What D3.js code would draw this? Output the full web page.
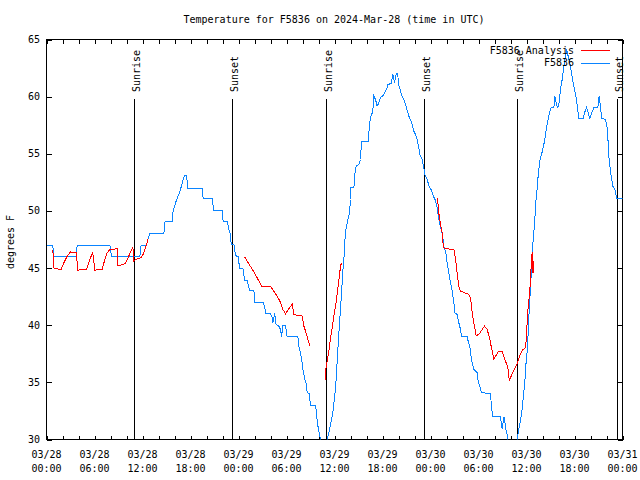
<!DOCTYPE html>
<html><head><meta charset="utf-8">
<script src="https://cdn.jsdelivr.net/npm/d3@7"></script>
<style>
body{margin:0;background:#fff;}
text{font-family:"DejaVu Sans Mono","Liberation Mono",monospace;font-size:10px;fill:#000;}
</style></head><body>
<svg id="c" width="640" height="480"></svg>
<script>
const title = "Temperature for F5836 on 2024-Mar-28 (time in UTC)";
const yLabel = "degrees F";
const seriesNames = ["F5836 Analysis", "F5836"];
const seriesColors = ["#ff0000", "#0a84ff"];
const yTicks = [30, 35, 40, 45, 50, 55, 60, 65];
const xLabelHours = [0, 6, 12, 18, 24, 30, 36, 42, 48, 54, 60, 66, 72];
const sunriseHours = [10.93, 34.88, 58.86];
const sunsetHours = [23.23, 47.24, 71.27];

// Observations (hours since 2024-03-28 00:00 UTC, deg F)
const obsHours = [0,0.79,0.88,3.75,3.83,7.92,8.13,11.67,11.83,12.5,12.67,12.92,14.67,14.83,15.71,15.83,16.13,16.33,16.67,16.96,17.08,17.25,17.5,17.67,19.46,19.58,20.71,20.92,21.96,22.08,22.58,22.79,23.0,23.08,23.42,23.5,23.71,23.96,24.04,24.13,24.54,24.67,24.79,25.08,25.21,25.38,25.92,26.04,27.08,27.29,27.42,28.0,28.21,28.29,28.42,28.54,28.63,28.75,29.04,29.25,29.38,29.54,29.88,30.08,31.42,31.54,31.75,31.92,32.08,32.29,32.5,32.58,32.83,33.0,33.58,33.71,33.85,34.0,34.2,34.6,35.23,35.44,35.65,35.85,35.98,36.15,36.27,36.4,36.48,36.6,36.77,36.9,37.02,37.19,37.29,37.46,37.67,37.88,38.0,38.05,38.42,38.54,38.71,39.04,39.25,39.33,39.42,40.21,40.38,40.5,40.79,40.92,41.13,41.33,41.54,41.75,42.17,42.5,42.67,43.08,43.29,43.5,43.71,43.92,43.96,44.25,44.46,44.75,45.0,45.29,45.58,45.92,46.13,46.33,46.54,46.67,46.96,47.17,47.29,47.58,47.79,48.08,48.42,48.63,48.83,49.04,49.33,49.54,49.67,49.96,50.08,50.29,50.5,50.71,50.92,51.04,51.33,51.54,51.75,51.88,52.58,52.71,52.92,53.0,53.21,53.42,53.83,53.96,54.17,54.38,55.5,55.63,55.79,56.75,56.88,57.0,57.13,57.25,57.38,57.54,57.71,58.25,58.98,59.19,59.4,59.52,59.69,59.81,59.94,60.1,60.23,60.35,60.52,60.65,60.77,60.94,61.06,61.19,61.35,61.48,61.69,61.9,62.08,62.29,62.5,62.71,62.92,63.08,63.42,63.54,63.75,63.92,64.04,64.25,64.46,64.67,64.88,65.0,65.21,65.42,65.63,65.83,66.0,66.25,66.54,67.08,67.25,67.5,67.71,67.92,68.13,68.42,68.92,69.08,69.25,69.38,69.88,70.08,70.21,70.29,70.42,70.58,70.79,71.04,71.21,71.33,72.0];
const obsTemps = [47.0,47.0,46.0,46.0,47.0,47.0,46.0,46.0,47.0,47.0,47.5,48.0,48.0,49.1,49.1,50.0,50.7,51.1,51.7,52.4,52.8,53.1,53.1,52.0,52.0,51.1,51.1,50.0,50.0,49.1,49.1,48.4,47.9,47.1,47.1,46.6,46.05,46.05,45.55,45.0,45.0,44.4,43.95,43.95,43.57,43.04,43.04,42.0,42.0,41.5,41.03,41.03,40.65,40.16,40.65,41.03,40.2,40.07,39.92,39.63,38.99,40.0,40.0,38.99,38.99,38.17,37.59,36.86,35.99,35.26,34.82,34.09,34.03,32.98,32.98,32.6,31.5,30.9,30.2,28.5,30.39,31.12,31.85,32.58,33.6,34.62,36.08,37.54,38.71,39.87,41.62,43.08,44.54,46.0,47.36,48.52,49.25,49.84,51.0,52.02,52.02,53.19,53.92,54.06,54.5,55.52,56.1,56.1,57.56,58.15,58.73,60.04,59.75,59.17,59.46,59.9,60.19,60.63,61.06,61.15,61.94,61.21,61.94,62.08,61.21,60.48,60.04,59.6,59.02,58.29,57.85,56.98,56.69,56.25,55.52,54.94,54.5,53.77,53.19,52.8,52.2,51.85,51.2,50.9,50.3,49.25,48.4,47.7,46.92,46.19,45.46,44.58,43.71,42.98,41.96,41.08,40.94,40.21,39.63,39.04,38.99,38.61,38.17,37.59,36.71,36.13,35.84,35.11,34.67,34.09,34.03,32.77,32.04,32.04,31.17,30.93,31.9,31.9,31.02,30.59,29.9,27.5,30.69,31.42,32.29,33.17,34.33,35.21,36.67,37.83,39.58,41.62,43.37,45.71,46.87,48.33,49.5,50.96,52.12,53.29,54.46,55.0,55.52,56.25,57.27,58.0,58.73,59.02,59.02,60.04,59.31,59.02,59.31,60.63,61.5,62.67,63.54,64.13,63.54,62.96,62.08,61.21,60.63,59.75,58.09,58.09,58.58,59.02,58.58,58.09,58.58,59.02,59.02,60.04,59.17,58.09,58.0,57.27,55.96,54.79,53.92,53.04,52.17,51.88,51.29,51.06,51.06];

// Analysis (null = gap)
const anaHours = [0.79,0.92,1.33,1.83,2.17,2.58,3.0,3.42,3.71,3.92,5.0,5.29,5.58,5.79,6.04,6.96,7.29,7.58,7.92,8.83,8.92,9.46,9.88,10.17,10.5,10.79,10.92,11.13,11.54,11.88,12.17,12.5,12.67,null,24.75,25.08,25.79,26.96,27.46,28.0,28.83,29.17,29.54,29.88,30.29,30.71,30.92,31.42,31.96,32.17,32.38,32.67,32.92,null,34.9,34.91,35.1,35.31,35.52,35.73,35.98,36.19,36.4,36.6,36.77,36.9,null,48.88,49.0,49.25,49.46,49.54,49.67,50.08,50.92,51.13,51.33,51.54,51.75,52.79,53.0,53.21,53.42,53.71,54.04,54.46,54.75,55.08,55.38,55.58,55.92,56.25,56.54,56.96,57.31,57.65,57.85,58.06,58.35,58.65,58.85,59.19,59.48,59.81,59.94,60.02,60.15,60.23,60.35,60.44,60.52,60.65,60.7,60.77,60.8,60.85];
const anaTemps = [46.57,45.0,44.93,44.88,45.46,46.04,46.42,46.33,46.33,44.82,44.88,45.46,46.04,46.33,44.82,44.88,45.75,46.33,46.63,46.68,45.23,45.28,45.4,45.87,46.39,46.86,45.6,45.75,45.84,45.95,46.33,47.06,47.5,null,46.0,45.6,44.82,43.36,43.42,43.42,42.55,42.11,41.38,41.0,41.44,41.82,40.94,40.86,40.8,39.92,39.49,38.76,38.23,null,35.21,36.08,36.96,37.83,39.0,39.87,41.04,41.91,43.08,44.25,45.27,45.41,null,51.15,50.0,48.8,48.08,47.3,46.77,46.68,46.63,45.75,44.58,43.42,42.98,42.69,42.4,41.08,40.21,39.1,39.19,39.63,39.92,39.63,38.9,38.17,37.0,37.44,37.73,37.73,36.96,36.37,35.21,35.5,35.94,36.37,36.67,37.4,37.83,37.98,38.56,39.58,40.89,41.91,42.5,43.37,44.54,45.71,46.4,44.6,46.0,44.6];

const t0 = Date.UTC(2024, 2, 28);
const toDate = h => new Date(t0 + h * 3600e3);

const L = 46.5, R = 622.5, T = 39.5, B = 439.5;
const svg = d3.select("#c");
const x = d3.scaleUtc().domain([toDate(0), toDate(72)]).range([L, R]);
const y = d3.scaleLinear().domain([30, 65]).range([B, T]);

svg.append("clipPath").attr("id", "clip").append("rect")
  .attr("x", L).attr("y", T).attr("width", R - L).attr("height", B - T);

svg.append("text").attr("x", 334).attr("y", 23).attr("text-anchor", "middle").text(title);
svg.append("text").attr("transform", "translate(14,242) rotate(-90)")
  .attr("text-anchor", "middle").text(yLabel);

const ax = svg.append("g").attr("shape-rendering", "crispEdges");
const minor = d3.utcHour.every(2);
ax.append("g").attr("transform", `translate(0,${B})`)
  .call(d3.axisBottom(x).ticks(minor).tickSize(-4).tickFormat("").tickSizeOuter(0));
ax.append("g").attr("transform", `translate(0,${T})`)
  .call(d3.axisTop(x).ticks(minor).tickSize(-4).tickFormat("").tickSizeOuter(0));
ax.append("g").attr("transform", `translate(${L},0)`)
  .call(d3.axisLeft(y).tickValues(yTicks).tickSize(-5).tickFormat("").tickSizeOuter(0));
ax.append("g").attr("transform", `translate(${R},0)`)
  .call(d3.axisRight(y).tickValues(yTicks).tickSize(-5).tickFormat("").tickSizeOuter(0));
ax.selectAll(".domain").remove();
ax.selectAll("line").attr("stroke", "#000");
ax.append("rect").attr("x", L).attr("y", T).attr("width", R - L).attr("height", B - T)
  .attr("fill", "none").attr("stroke", "#000");

const fmtD = d3.utcFormat("%m/%d"), fmtT = d3.utcFormat("%H:%M");
const xl = svg.append("g").selectAll("g").data(xLabelHours).join("g")
  .attr("transform", h => `translate(${x(toDate(h))},0)`);
xl.append("text").attr("y", 458).attr("text-anchor", "middle").text(h => fmtD(toDate(h)));
xl.append("text").attr("y", 472).attr("text-anchor", "middle").text(h => fmtT(toDate(h)));
svg.append("g").selectAll("text").data(yTicks).join("text")
  .attr("x", 40).attr("y", d => y(d)).attr("dy", "0.35em").attr("text-anchor", "end").text(d => d);

const sun = sunriseHours.map(h => ({h, label: "Sunrise"}))
  .concat(sunsetHours.map(h => ({h, label: "Sunset"})));
const sg = svg.append("g");
sg.selectAll("line").data(sun).join("line")
  .attr("x1", d => Math.round(x(toDate(d.h))) + 0.5).attr("x2", d => Math.round(x(toDate(d.h))) + 0.5)
  .attr("y1", 99).attr("y2", B).attr("stroke", "#000").attr("shape-rendering", "crispEdges");
sg.selectAll("text").data(sun).join("text")
  .attr("transform", d => `translate(${Math.round(x(toDate(d.h))) + 5.5},92) rotate(-90)`)
  .text(d => d.label);

const line = d3.line().defined(d => d[1] != null).x(d => x(toDate(d[0]))).y(d => y(d[1]));
const plot = svg.append("g").attr("clip-path", "url(#clip)");
const ana = anaHours.map((h, i) => [h, anaTemps[i]]);
const obs = obsHours.map((h, i) => [h, obsTemps[i]]);
plot.append("path").attr("d", line(obs)).attr("fill", "none")
  .attr("stroke", seriesColors[1]).attr("stroke-width", 1).attr("shape-rendering", "crispEdges");
plot.append("path").attr("d", line(ana)).attr("fill", "none")
  .attr("stroke", seriesColors[0]).attr("stroke-width", 1).attr("shape-rendering", "crispEdges");

const lg = svg.append("g").selectAll("g").data(seriesNames).join("g")
  .attr("transform", (d, i) => `translate(0,${50 + i * 12.5})`);
lg.append("text").attr("x", 574).attr("dy", "0.35em").attr("text-anchor", "end").text(d => d);
lg.append("line").attr("x1", 581).attr("x2", 610).attr("y1", 0.5).attr("y2", 0.5)
  .attr("stroke", (d, i) => seriesColors[i]).attr("shape-rendering", "crispEdges");
</script>
</body></html>
